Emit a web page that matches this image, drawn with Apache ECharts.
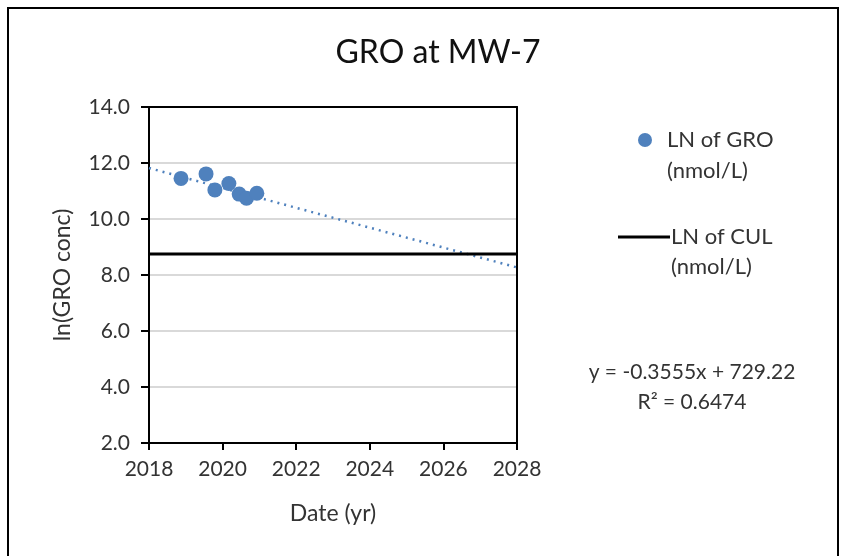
<!DOCTYPE html>
<html>
<head>
<meta charset="utf-8">
<script src="https://cdn.jsdelivr.net/npm/echarts@6/dist/echarts.min.js"></script>
<style>
  html, body { margin: 0; padding: 0; background: #fff; }
  #chart { width: 841px; height: 556px; }
</style>
</head>
<body>
<div id="chart"></div>
<script>
// sample dates (decimal years) and ln(GRO) values
const groYears = [2018.87, 2019.55, 2019.79, 2020.17, 2020.45, 2020.65, 2020.93];
const groLn = [11.45, 11.61, 11.04, 11.27, 10.89, 10.74, 10.92];
// linear trend, end points at the x axis limits
const trendYears = [2018, 2028];
const trendLn = [11.82, 8.27];
// cleanup level (ln)
const culYears = [2018, 2028];
const culLn = [8.75, 8.75];

const FONT = "Lato";
const blue = "#4f81bd";
const txt = "#333";

const chart = echarts.init(document.getElementById("chart"));
const option = {
  animation: false,
  textStyle: { fontFamily: FONT },
  title: {
    text: "GRO at MW-7",
    left: 433,
    top: 32,
    textAlign: "center",
    textStyle: { fontFamily: FONT, fontSize: 32, fontWeight: "normal", color: "#111" },
  },
  grid: {
    left: 149,
    right: 324,
    top: 107,
    bottom: 113,
  },
  xAxis: [
    {
      type: "value",
      min: 2018,
      max: 2028,
      interval: 2,
      name: "Date (yr)",
      nameLocation: "middle",
      nameGap: 59,
      nameTextStyle: { fontFamily: FONT, fontSize: 23, color: txt },
      axisLine: { lineStyle: { color: "#000", width: 2 } },
      axisTick: { show: true, inside: false, length: 7, lineStyle: { color: "#000", width: 2 } },
      axisLabel: { color: txt, fontSize: 21, margin: 16, fontFamily: FONT, formatter: (v) => String(v) },
      splitLine: { show: false },
    },
    {
      type: "value",
      position: "top",
      min: 2018,
      max: 2028,
      axisLine: { show: true, lineStyle: { color: "#000", width: 2 } },
      axisTick: { show: false },
      axisLabel: { show: false },
      splitLine: { show: false },
    },
  ],
  yAxis: [
    {
      type: "value",
      min: 2,
      max: 14,
      interval: 2,
      name: "ln(GRO conc)",
      nameLocation: "middle",
      nameGap: 75,
      nameRotate: 90,
      nameTextStyle: { fontFamily: FONT, fontSize: 23, color: txt },
      axisLine: { show: true, lineStyle: { color: "#000", width: 2 } },
      axisTick: { show: true, inside: false, length: 8, lineStyle: { color: "#000", width: 2 } },
      axisLabel: {
        color: txt,
        fontSize: 21,
        margin: 19,
        fontFamily: FONT,
        formatter: (v) => v.toFixed(1),
      },
      splitLine: { show: true, lineStyle: { color: "#d9d9d9", width: 2 } },
    },
    {
      type: "value",
      position: "right",
      min: 2,
      max: 14,
      axisLine: { show: true, lineStyle: { color: "#000", width: 2 } },
      axisTick: { show: false },
      axisLabel: { show: false },
      splitLine: { show: false },
    },
  ],
  series: [
    {
      name: "LN of CUL (nmol/L)",
      type: "line",
      data: culYears.map((x, i) => [x, culLn[i]]),
      showSymbol: false,
      lineStyle: { color: "#000", width: 3 },
      z: 3,
    },
    {
      name: "trend",
      type: "line",
      data: trendYears.map((x, i) => [x, trendLn[i]]),
      showSymbol: false,
      lineStyle: { color: blue, width: 2.5, type: [2, 5] },
      z: 2,
    },
    {
      name: "LN of GRO (nmol/L)",
      type: "scatter",
      data: groYears.map((x, i) => [x, groLn[i]]),
      symbol: "circle",
      symbolSize: 15,
      itemStyle: { color: blue, opacity: 1 },
      z: 4,
    },
  ],
  graphic: [
    // outer frame
    {
      type: "rect",
      shape: { x: 8, y: 8, width: 830, height: 560 },
      style: { fill: null, stroke: "#000", lineWidth: 2 },
      silent: true,
    },
    // legend
    {
      type: "circle",
      shape: { cx: 645, cy: 140, r: 7 },
      style: { fill: blue },
    },
    {
      type: "text",
      left: 667,
      top: 124,
      style: { text: "LN of GRO\n(nmol/L)", fontFamily: FONT, fontSize: 22, lineHeight: 31, fill: txt },
    },
    {
      type: "line",
      shape: { x1: 618, y1: 237, x2: 670, y2: 237 },
      style: { stroke: "#000", lineWidth: 3 },
    },
    {
      type: "text",
      left: 671,
      top: 222,
      style: { text: "LN of CUL\n(nmol/L)", fontFamily: FONT, fontSize: 22, lineHeight: 30, fill: txt },
    },
    // trend equation
    {
      type: "text",
      x: 692,
      y: 357,
      style: {
        text: "y = -0.3555x + 729.22\nR² = 0.6474",
        align: "center",
        fontFamily: FONT,
        fontSize: 21,
        lineHeight: 30,
        fill: txt,
      },
    },
  ],
};
chart.setOption(option);
window.addEventListener("resize", () => chart.resize());
</script>
</body>
</html>
